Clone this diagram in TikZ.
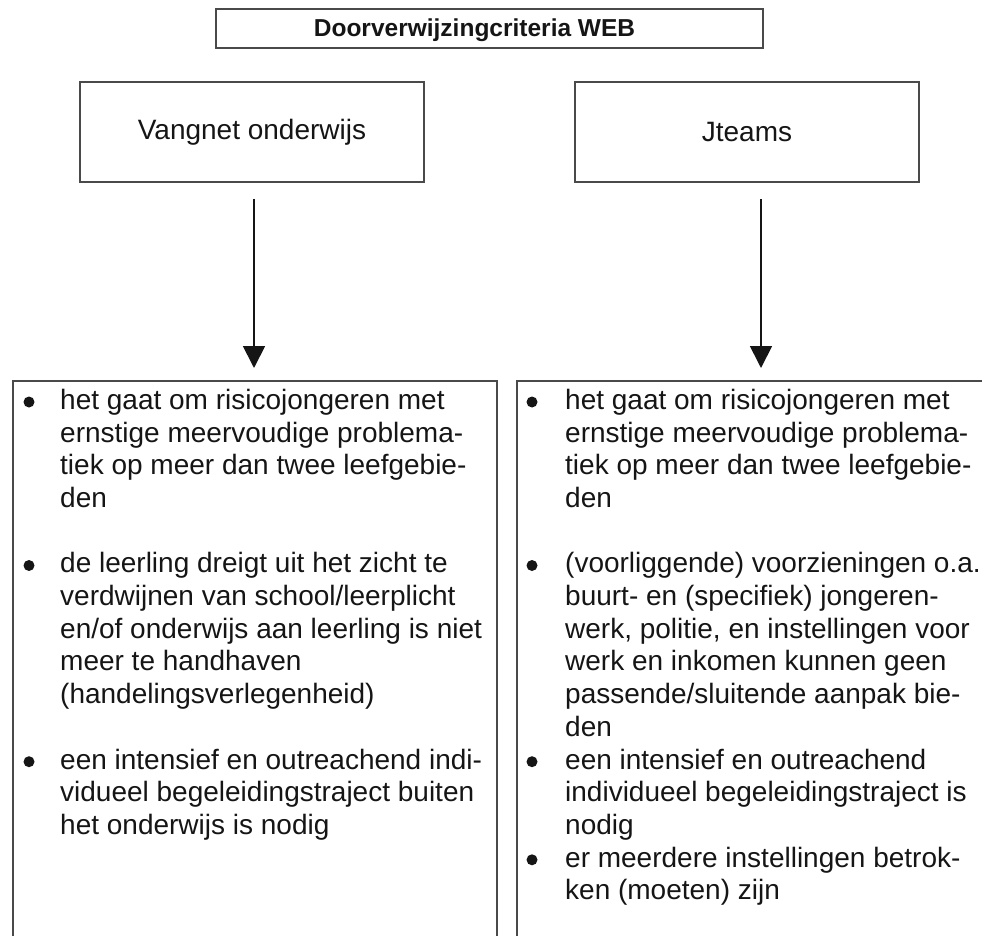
\documentclass[tikz,border=0pt]{standalone}
\usepackage{fontspec}
\setmainfont{Liberation Sans}
\usetikzlibrary{arrows.meta}
\definecolor{boxline}{HTML}{4A4A4A}
\definecolor{ink}{HTML}{151515}
\tikzset{
  framebox/.style={draw=boxline, line width=1.6pt, inner sep=0pt},
  headtext/.style={font=\fontsize{28}{32}\selectfont, text=ink},
  bodytext/.style={anchor=base west, inner sep=0pt, font=\fontsize{28}{33}\selectfont, text=ink},
  bulletdot/.style={circle, fill=ink, inner sep=0pt, minimum size=11pt},
  arr/.style={draw=ink, line width=1.8pt, -{Triangle[width=22pt,length=22pt]}},
  openbox/.style={draw=boxline, line width=1.6pt}
}
\newcommand\bodyline[4]{\node[bodytext] (#1) at (#2,{409.3+32.7*#3}) {#4};}
\newcommand\bulletat[3]{\node[bulletdot] (#1) at (#2,{402+32.7*#3}) {};}
\begin{document}
\begin{tikzpicture}[x=1pt,y=-1pt]
\useasboundingbox (0,0) rectangle (982,936);

% title
\node[framebox, minimum width=547pt, minimum height=39pt] (title) at (489.5,28.5) {};
\node[anchor=base, inner sep=0pt, font=\bfseries\fontsize{24.5}{28}\selectfont, text=ink] (titletext) at (474.5,37) {Doorverwijzingcriteria WEB};

% top boxes
\node[framebox, minimum width=344pt, minimum height=100pt, headtext] (vangnet) at (252,132) {Vangnet onderwijs};
\node[framebox, minimum width=344pt, minimum height=100pt, headtext] (jteams) at (747,132) {Jteams};

% lower boxes (open at the bottom edge of the picture)
\coordinate (lbl) at (13,936);
\coordinate (lbtl) at (13,381);
\coordinate (lbtr) at (497,381);
\coordinate (lbr) at (497,936);
\draw[openbox] (lbl) -- (lbtl) -- (lbtr) -- (lbr);
\coordinate (rbl) at (517,936);
\coordinate (rbtl) at (517,381);
\coordinate (rbtr) at (982,381);
\draw[openbox] (rbl) -- (rbtl) -- (rbtr);

% arrows
\coordinate (a1s) at (254,199);
\coordinate (a1e) at (254,368);
\coordinate (a2s) at (761,199);
\coordinate (a2e) at (761,368);
\draw[arr] (a1s) -- (a1e);
\draw[arr] (a2s) -- (a2e);

% left column
\bulletat{lb1}{29}{0}
\bodyline{l0}{60}{0}{het gaat om risicojongeren met}
\bodyline{l1}{60}{1}{ernstige meervoudige problema-}
\bodyline{l2}{60}{2}{tiek op meer dan twee leefgebie-}
\bodyline{l3}{60}{3}{den}
\bulletat{lb2}{29}{5}
\bodyline{l5}{60}{5}{de leerling dreigt uit het zicht te}
\bodyline{l6}{60}{6}{verdwijnen van school/leerplicht}
\bodyline{l7}{60}{7}{en/of onderwijs aan leerling is niet}
\bodyline{l8}{60}{8}{meer te handhaven}
\bodyline{l9}{60}{9}{(handelingsverlegenheid)}
\bulletat{lb3}{29}{11}
\bodyline{l11}{60}{11}{een intensief en outreachend indi-}
\bodyline{l12}{60}{12}{vidueel begeleidingstraject buiten}
\bodyline{l13}{60}{13}{het onderwijs is nodig}

% right column
\bulletat{rb1}{532}{0}
\bodyline{r0}{565}{0}{het gaat om risicojongeren met}
\bodyline{r1}{565}{1}{ernstige meervoudige problema-}
\bodyline{r2}{565}{2}{tiek op meer dan twee leefgebie-}
\bodyline{r3}{565}{3}{den}
\bulletat{rb2}{532}{5}
\bodyline{r5}{565}{5}{(voorliggende) voorzieningen o.a.}
\bodyline{r6}{565}{6}{buurt- en (specifiek) jongeren-}
\bodyline{r7}{565}{7}{werk, politie, en instellingen voor}
\bodyline{r8}{565}{8}{werk en inkomen kunnen geen}
\bodyline{r9}{565}{9}{passende/sluitende aanpak bie-}
\bodyline{r10}{565}{10}{den}
\bulletat{rb3}{532}{11}
\bodyline{r11}{565}{11}{een intensief en outreachend}
\bodyline{r12}{565}{12}{individueel begeleidingstraject is}
\bodyline{r13}{565}{13}{nodig}
\bulletat{rb4}{532}{14}
\bodyline{r14}{565}{14}{er meerdere instellingen betrok-}
\bodyline{r15}{565}{15}{ken (moeten) zijn}
\end{tikzpicture}
\end{document}
